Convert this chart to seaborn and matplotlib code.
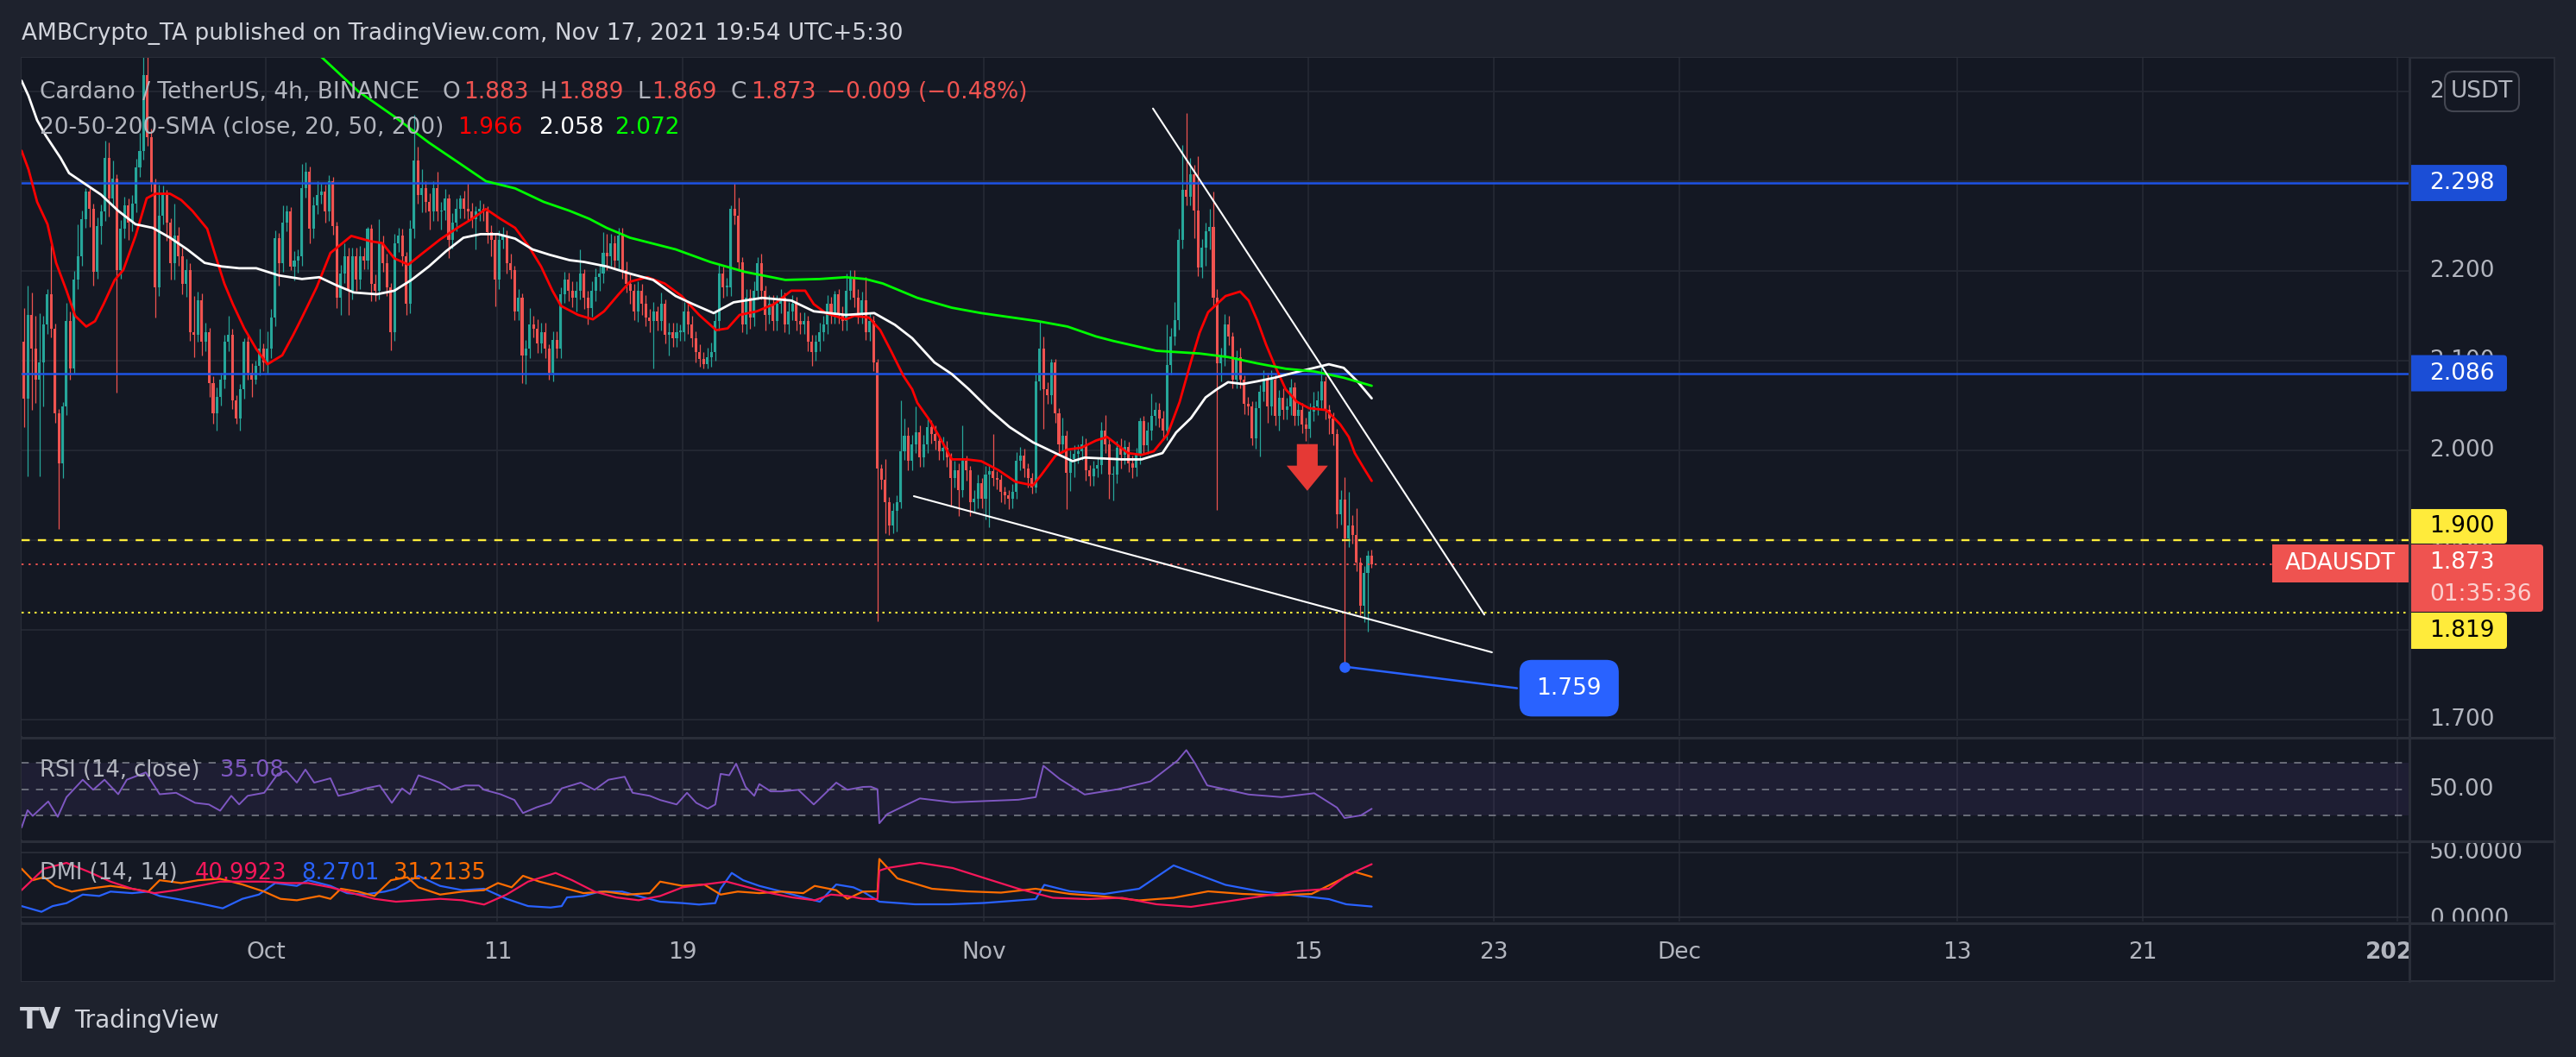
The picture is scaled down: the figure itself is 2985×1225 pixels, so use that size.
import numpy as np
import pandas as pd
import matplotlib
matplotlib.use("Agg")
import matplotlib.pyplot as plt
import seaborn as sns
from matplotlib.patches import Rectangle, FancyBboxPatch, Polygon
from matplotlib.lines import Line2D

sns.set_theme(style="dark")
plt.rcParams['font.family'] = ['DejaVu Sans']

# ---------------------------------------------------------------- data
origin = "2021-10-01"
first_candle = "2021-09-20 13:30"
first_open = 2.121
closes = [
    2.058, 2.151, 2.113, 2.079, 2.098, 2.140, 2.174, 2.136, 2.041, 1.986,
    2.049, 2.144, 2.091, 2.190, 2.216, 2.258, 2.288, 2.269, 2.199, 2.250,
    2.266, 2.326, 2.281, 2.303, 2.201, 2.247, 2.273, 2.254, 2.275, 2.315,
    2.334, 2.418, 2.349, 2.298, 2.182, 2.262, 2.285, 2.254, 2.209, 2.239,
    2.216, 2.186, 2.201, 2.132, 2.129, 2.167, 2.121, 2.132, 2.075, 2.041,
    2.060, 2.079, 2.121, 2.129, 2.056, 2.036, 2.068, 2.121, 2.087, 2.079,
    2.094, 2.113, 2.098, 2.113, 2.148, 2.237, 2.209, 2.254, 2.266, 2.205,
    2.212, 2.216, 2.292, 2.311, 2.247, 2.273, 2.285, 2.288, 2.266, 2.300,
    2.250, 2.170, 2.197, 2.216, 2.178, 2.216, 2.190, 2.216, 2.212, 2.247,
    2.186, 2.178, 2.231, 2.209, 2.182, 2.132, 2.231, 2.239, 2.216, 2.163,
    2.247, 2.323, 2.285, 2.292, 2.277, 2.266, 2.292, 2.266, 2.267, 2.281,
    2.235, 2.254, 2.269, 2.281, 2.269, 2.266, 2.258, 2.266, 2.269, 2.266,
    2.243, 2.235, 2.190, 2.235, 2.239, 2.209, 2.201, 2.155, 2.170, 2.106,
    2.113, 2.140, 2.136, 2.119, 2.132, 2.113, 2.087, 2.123, 2.113, 2.174,
    2.190, 2.178, 2.170, 2.178, 2.197, 2.170, 2.159, 2.178, 2.193, 2.197,
    2.220, 2.216, 2.231, 2.212, 2.239, 2.201, 2.186, 2.178, 2.155, 2.178,
    2.163, 2.148, 2.144, 2.155, 2.144, 2.163, 2.129, 2.132, 2.125, 2.132,
    2.132, 2.155, 2.140, 2.125, 2.110, 2.102, 2.096, 2.104, 2.110, 2.144,
    2.197, 2.182, 2.182, 2.269, 2.262, 2.210, 2.140, 2.170, 2.148, 2.178,
    2.209, 2.178, 2.151, 2.163, 2.144, 2.163, 2.170, 2.140, 2.155, 2.163,
    2.144, 2.140, 2.144, 2.121, 2.110, 2.121, 2.132, 2.140, 2.163, 2.151,
    2.174, 2.151, 2.144, 2.178, 2.193, 2.170, 2.151, 2.167, 2.132, 2.144,
    2.098, 1.980, 1.967, 1.942, 1.916, 1.933, 1.942, 1.999, 2.016, 1.988,
    2.007, 2.020, 1.992, 2.007, 2.026, 2.018, 2.011, 1.999, 2.003, 1.992,
    1.969, 1.978, 1.956, 1.988, 1.978, 1.942, 1.946, 1.963, 1.946, 1.973,
    1.977, 1.969, 1.967, 1.954, 1.950, 1.946, 1.954, 1.988, 1.994, 1.980,
    1.969, 1.959, 2.077, 2.113, 2.068, 2.062, 2.098, 2.041, 2.007, 2.016,
    1.975, 1.990, 1.996, 1.999, 2.007, 1.978, 1.971, 1.980, 1.984, 2.022,
    2.007, 1.973, 1.973, 2.003, 1.995, 2.004, 1.986, 1.981, 1.995, 2.033,
    2.006, 2.022, 2.038, 2.045, 2.036, 2.022, 2.095, 2.127, 2.145, 2.235,
    2.290, 2.283, 2.308, 2.267, 2.204, 2.226, 2.244, 2.249, 2.170, 2.097,
    2.104, 2.140, 2.127, 2.079, 2.104, 2.079, 2.052, 2.049, 2.013, 2.047,
    2.065, 2.079, 2.049, 2.079, 2.038, 2.059, 2.045, 2.049, 2.070, 2.038,
    2.045, 2.029, 2.024, 2.043, 2.049, 2.056, 2.077, 2.045, 2.036, 2.018,
    1.929, 1.945, 1.902, 1.916, 1.906, 1.875, 1.827, 1.863, 1.883, 1.873,
]
wick_up = [
    0.038, 0.033, 0.025, 0.037, 0.055, 0.010, 0.006, 0.055, 0.005, 0.005,
    0.005, 0.020, 0.011, 0.010, 0.036, 0.009, 0.004, 0.005, 0.006, 0.010,
    0.008, 0.019, 0.017, 0.020, 0.005, 0.010, 0.010, 0.008, 0.010, 0.010,
    0.020, 0.030, 0.030, 0.010, 0.005, 0.034, 0.010, 0.005, 0.005, 0.036,
    0.010, 0.010, 0.012, 0.008, 0.040, 0.010, 0.008, 0.010, 0.005, 0.008,
    0.010, 0.008, 0.008, 0.021, 0.007, 0.006, 0.006, 0.004, 0.008, 0.010,
    0.006, 0.023, 0.006, 0.020, 0.010, 0.008, 0.005, 0.019, 0.007, 0.005,
    0.010, 0.008, 0.027, 0.010, 0.005, 0.010, 0.015, 0.010, 0.008, 0.007,
    0.005, 0.005, 0.010, 0.015, 0.010, 0.010, 0.010, 0.012, 0.010, 0.002,
    0.005, 0.010, 0.027, 0.008, 0.010, 0.005, 0.010, 0.009, 0.008, 0.005,
    0.010, 0.051, 0.015, 0.021, 0.008, 0.010, 0.008, 0.019, 0.010, 0.010,
    0.005, 0.010, 0.012, 0.004, 0.008, 0.029, 0.010, 0.006, 0.010, 0.006,
    0.006, 0.008, 0.006, 0.010, 0.010, 0.006, 0.010, 0.005, 0.010, 0.005,
    0.010, 0.019, 0.010, 0.010, 0.010, 0.010, 0.005, 0.010, 0.010, 0.008,
    0.009, 0.008, 0.010, 0.010, 0.027, 0.005, 0.008, 0.010, 0.010, 0.010,
    0.023, 0.021, 0.010, 0.008, 0.009, 0.009, 0.010, 0.010, 0.008, 0.010,
    0.008, 0.010, 0.010, 0.010, 0.006, 0.013, 0.005, 0.010, 0.010, 0.010,
    0.008, 0.010, 0.008, 0.010, 0.008, 0.008, 0.008, 0.010, 0.010, 0.010,
    0.010, 0.008, 0.010, 0.004, 0.029, 0.020, 0.005, 0.010, 0.010, 0.010,
    0.006, 0.010, 0.006, 0.010, 0.010, 0.010, 0.010, 0.006, 0.010, 0.010,
    0.008, 0.010, 0.010, 0.006, 0.008, 0.008, 0.010, 0.010, 0.010, 0.008,
    0.004, 0.006, 0.010, 0.019, 0.008, 0.008, 0.010, 0.010, 0.026, 0.010,
    0.006, 0.004, 0.005, 0.023, 0.006, 0.008, 0.008, 0.057, 0.020, 0.010,
    0.010, 0.029, 0.008, 0.010, 0.010, 0.008, 0.010, 0.006, 0.012, 0.008,
    0.005, 0.010, 0.008, 0.040, 0.006, 0.005, 0.010, 0.010, 0.006, 0.010,
    0.008, 0.041, 0.008, 0.006, 0.006, 0.006, 0.008, 0.010, 0.010, 0.008,
    0.006, 0.006, 0.010, 0.031, 0.014, 0.008, 0.004, 0.004, 0.006, 0.021,
    0.006, 0.010, 0.010, 0.008, 0.009, 0.006, 0.006, 0.008, 0.008, 0.010,
    0.017, 0.006, 0.010, 0.008, 0.010, 0.008, 0.006, 0.008, 0.008, 0.004,
    0.005, 0.010, 0.025, 0.009, 0.008, 0.008, 0.045, 0.010, 0.020, 0.012,
    0.050, 0.086, 0.018, 0.010, 0.061, 0.010, 0.010, 0.020, 0.039, 0.010,
    0.010, 0.012, 0.010, 0.005, 0.008, 0.010, 0.005, 0.008, 0.006, 0.008,
    0.008, 0.010, 0.008, 0.010, 0.006, 0.008, 0.010, 0.010, 0.010, 0.006,
    0.010, 0.008, 0.008, 0.010, 0.016, 0.010, 0.018, 0.006, 0.006, 0.006,
    0.006, 0.011, 0.025, 0.038, 0.012, 0.030, 0.006, 0.008, 0.005, 0.006,
]
wick_down = [
    0.032, 0.087, 0.068, 0.026, 0.108, 0.049, 0.010, 0.010, 0.010, 0.074,
    0.017, 0.010, 0.012, 0.005, 0.010, 0.010, 0.010, 0.020, 0.015, 0.008,
    0.020, 0.010, 0.020, 0.010, 0.137, 0.010, 0.010, 0.019, 0.010, 0.010,
    0.010, 0.010, 0.010, 0.010, 0.034, 0.010, 0.010, 0.020, 0.019, 0.019,
    0.010, 0.012, 0.015, 0.010, 0.025, 0.008, 0.015, 0.010, 0.015, 0.011,
    0.019, 0.010, 0.010, 0.010, 0.010, 0.006, 0.014, 0.010, 0.008, 0.019,
    0.005, 0.010, 0.010, 0.012, 0.010, 0.010, 0.025, 0.010, 0.010, 0.004,
    0.016, 0.014, 0.010, 0.010, 0.016, 0.010, 0.010, 0.010, 0.012, 0.010,
    0.010, 0.011, 0.019, 0.010, 0.027, 0.010, 0.012, 0.010, 0.010, 0.010,
    0.020, 0.012, 0.010, 0.010, 0.010, 0.020, 0.010, 0.010, 0.010, 0.012,
    0.010, 0.010, 0.010, 0.020, 0.012, 0.020, 0.010, 0.010, 0.020, 0.010,
    0.021, 0.010, 0.010, 0.010, 0.010, 0.010, 0.010, 0.034, 0.010, 0.010,
    0.012, 0.019, 0.029, 0.010, 0.010, 0.012, 0.010, 0.010, 0.010, 0.031,
    0.032, 0.010, 0.010, 0.010, 0.010, 0.010, 0.008, 0.010, 0.010, 0.010,
    0.010, 0.012, 0.010, 0.015, 0.010, 0.012, 0.019, 0.010, 0.012, 0.015,
    0.010, 0.015, 0.010, 0.010, 0.010, 0.010, 0.010, 0.015, 0.010, 0.012,
    0.012, 0.010, 0.012, 0.053, 0.010, 0.010, 0.010, 0.023, 0.010, 0.010,
    0.010, 0.010, 0.010, 0.010, 0.012, 0.009, 0.005, 0.005, 0.011, 0.010,
    0.010, 0.012, 0.010, 0.010, 0.010, 0.010, 0.008, 0.010, 0.012, 0.010,
    0.010, 0.010, 0.017, 0.010, 0.010, 0.010, 0.010, 0.008, 0.010, 0.010,
    0.010, 0.010, 0.010, 0.010, 0.016, 0.010, 0.010, 0.010, 0.010, 0.010,
    0.010, 0.010, 0.010, 0.010, 0.010, 0.010, 0.010, 0.010, 0.009, 0.010,
    0.010, 0.170, 0.010, 0.034, 0.010, 0.008, 0.023, 0.006, 0.010, 0.010,
    0.010, 0.010, 0.010, 0.010, 0.010, 0.010, 0.010, 0.010, 0.010, 0.010,
    0.032, 0.010, 0.029, 0.008, 0.012, 0.015, 0.010, 0.010, 0.010, 0.023,
    0.059, 0.008, 0.010, 0.012, 0.010, 0.011, 0.010, 0.008, 0.010, 0.010,
    0.010, 0.007, 0.006, 0.010, 0.044, 0.010, 0.010, 0.010, 0.010, 0.010,
    0.040, 0.020, 0.020, 0.010, 0.010, 0.012, 0.010, 0.010, 0.010, 0.010,
    0.010, 0.027, 0.029, 0.010, 0.015, 0.010, 0.010, 0.012, 0.010, 0.010,
    0.010, 0.010, 0.010, 0.010, 0.010, 0.010, 0.010, 0.010, 0.010, 0.010,
    0.010, 0.010, 0.010, 0.030, 0.010, 0.012, 0.020, 0.020, 0.010, 0.163,
    0.020, 0.010, 0.010, 0.010, 0.010, 0.010, 0.012, 0.010, 0.007, 0.011,
    0.054, 0.010, 0.018, 0.010, 0.010, 0.016, 0.010, 0.010, 0.010, 0.010,
    0.010, 0.010, 0.013, 0.010, 0.010, 0.010, 0.010, 0.010, 0.018, 0.012,
    0.016, 0.012, 0.143, 0.010, 0.010, 0.010, 0.011, 0.018, 0.065, 0.004,
]

# moving averages (days since Oct 1, value)
sma20_days = [-10.54, -10.24, -9.87, -9.42, -9.05, -8.60, -8.23, -7.75, -7.37, -7.00, -6.52, -6.15, -5.62,
              -5.14, -4.77, -4.13, -3.65, -3.17, -2.53, -2.16, -1.79, -1.42, -0.93, -0.41, 0.07, 0.71, 1.19,
              1.56, 2.20, 2.79, 3.69, 4.54, 5.03, 5.55, 6.15, 6.78, 7.52, 8.27, 8.90, 9.50, 10.13, 10.76,
              11.36, 11.88, 12.37, 12.74, 13.48, 14.12, 14.60, 15.23, 15.72, 16.46, 17.21, 17.95, 18.70,
              19.44, 19.93, 20.45, 21.19, 21.94, 22.68, 23.28, 23.65, 24.17, 25.03, 25.40, 26.03, 26.52,
              27.00, 27.52, 27.90, 28.12, 28.64, 29.01, 29.61, 30.24, 30.88, 31.62, 32.36, 33.11, 33.48,
              34.08, 34.60, 35.20, 35.83, 36.31, 37.21, 37.80, 38.32, 38.92, 39.44, 39.93, 40.30, 40.67,
              41.42, 42.05, 42.42, 42.79, 43.17, 43.54, 44.02, 44.51, 45.03, 45.77, 46.37, 46.74, 47.00,
              47.37, 47.73]
sma20_vals = [2.334, 2.313, 2.277, 2.252, 2.209, 2.178, 2.150, 2.138, 2.144, 2.163, 2.190, 2.201, 2.239,
              2.281, 2.286, 2.286, 2.279, 2.267, 2.247, 2.216, 2.186, 2.163, 2.136, 2.113, 2.096, 2.106, 2.129,
              2.148, 2.182, 2.220, 2.239, 2.233, 2.231, 2.214, 2.207, 2.220, 2.235, 2.248, 2.258, 2.269, 2.258,
              2.248, 2.227, 2.205, 2.178, 2.161, 2.151, 2.146, 2.155, 2.174, 2.188, 2.193, 2.186, 2.172, 2.151,
              2.134, 2.136, 2.151, 2.155, 2.163, 2.178, 2.178, 2.163, 2.153, 2.146, 2.150, 2.148, 2.134,
              2.110, 2.083, 2.068, 2.053, 2.034, 2.018, 1.990, 1.990, 1.988, 1.978, 1.965, 1.961, 1.973,
              1.994, 2.001, 2.003, 2.011, 2.015, 1.997, 1.995, 1.999, 2.018, 2.054, 2.099, 2.131, 2.154,
              2.172, 2.177, 2.167, 2.145, 2.118, 2.095, 2.068, 2.054, 2.047, 2.045, 2.029, 2.015, 1.997,
              1.981, 1.966]
sma50_days = [-10.54, -10.24, -9.87, -9.50, -8.86, -8.49, -7.86, -7.11, -6.37, -5.62, -4.88, -4.13, -3.39,
              -2.64, -1.90, -1.15, -0.41, 0.56, 1.56, 2.31, 3.05, 3.80, 4.80, 5.55, 6.29, 7.04, 7.78, 8.53,
              9.27, 10.02, 10.76, 11.51, 12.25, 13.11, 13.74, 14.71, 15.72, 16.72, 17.69, 18.44, 19.33,
              20.19, 21.42, 22.68, 23.65, 25.03, 26.26, 27.15, 27.90, 28.86, 29.61, 30.35, 31.25, 32.10,
              33.11, 34.08, 34.82, 35.34, 36.95, 37.80, 38.70, 39.29, 39.93, 40.56, 41.04, 41.53, 42.16,
              42.79, 43.54, 44.28, 45.25, 45.88, 46.52, 47.11, 47.73]
sma50_vals = [2.412, 2.395, 2.368, 2.351, 2.326, 2.309, 2.298, 2.285, 2.267, 2.252, 2.248, 2.237, 2.224,
              2.209, 2.205, 2.203, 2.203, 2.195, 2.191, 2.193, 2.184, 2.176, 2.174, 2.178, 2.190, 2.205,
              2.222, 2.237, 2.241, 2.241, 2.236, 2.224, 2.218, 2.212, 2.210, 2.205, 2.197, 2.190, 2.172,
              2.163, 2.153, 2.165, 2.170, 2.167, 2.155, 2.151, 2.153, 2.140, 2.125, 2.098, 2.085, 2.068,
              2.045, 2.026, 2.009, 1.997, 1.988, 1.992, 1.990, 1.990, 1.997, 2.020, 2.036, 2.059, 2.068,
              2.076, 2.074, 2.077, 2.081, 2.086, 2.092, 2.096, 2.092, 2.077, 2.058]
sma200_days = [0.00, 2.42, 4.00, 5.55, 7.04, 8.53, 9.50, 10.76, 11.99, 13.11, 13.97, 14.71, 15.72, 17.69,
               19.18, 20.67, 22.42, 23.91, 25.03, 25.88, 26.63, 28.12, 29.61, 30.88, 33.33, 34.60, 35.83,
               36.57, 38.44, 40.30, 41.53, 42.79, 44.02, 45.25, 46.52, 47.73]
sma200_vals = [2.490, 2.438, 2.400, 2.372, 2.343, 2.317, 2.300, 2.292, 2.277, 2.267, 2.258, 2.248, 2.237,
               2.224, 2.210, 2.199, 2.190, 2.191, 2.193, 2.191, 2.186, 2.170, 2.159, 2.153, 2.144, 2.138,
               2.127, 2.122, 2.111, 2.108, 2.104, 2.097, 2.091, 2.088, 2.081, 2.072]

rsi_days = [-10.54, -10.28, -10.06, -9.39, -8.98, -8.60, -7.90, -7.45, -6.96, -6.37, -6.00, -5.18, -4.58,
            -3.87, -3.05, -2.46, -1.97, -1.49, -1.15, -0.78, -0.07, 0.52, 0.89, 1.34, 1.71, 2.09, 2.79,
            3.13, 3.72, 4.32, 4.92, 5.44, 5.88, 6.22, 6.59, 7.52, 8.01, 8.60, 9.20, 9.42, 10.13, 10.73,
            11.10, 11.69, 12.29, 12.77, 13.59, 14.19, 14.79, 15.49, 15.83, 16.57, 17.02, 17.73, 18.18,
            18.58, 19.07, 19.40, 19.63, 20.00, 20.30, 20.71, 21.08, 21.30, 21.79, 22.27, 22.98, 23.65,
            24.17, 24.62, 25.10, 25.77, 26.11, 26.40, 26.48, 26.82, 27.52, 28.23, 29.65, 31.06, 32.48,
            33.23, 33.56, 34.26, 35.34, 36.76, 38.18, 39.35, 39.73, 40.10, 40.63, 42.42, 43.84, 45.25,
            46.23, 46.56, 47.26, 47.73]
rsi_vals = [20.7, 34.0, 29.6, 40.7, 28.9, 44.0, 57.3, 49.6, 57.3, 46.2, 57.3, 62.9, 46.2, 47.3, 39.6,
            38.4, 33.6, 45.0, 38.4, 45.0, 47.3, 61.8, 64.0, 55.1, 65.1, 55.1, 58.4, 45.0, 47.3, 50.7,
            52.9, 39.6, 50.7, 46.2, 60.7, 55.1, 49.6, 52.9, 52.9, 49.6, 46.2, 41.8, 31.8, 36.2, 39.6,
            50.7, 55.1, 49.6, 57.3, 59.6, 47.3, 45.0, 41.8, 38.4, 47.3, 39.6, 35.1, 38.4, 61.8, 60.7,
            69.6, 51.8, 45.0, 54.0, 48.4, 48.4, 49.6, 38.4, 47.3, 55.1, 49.6, 51.8, 52.0, 50.0, 24.0,
            31.0, 37.0, 43.0, 40.0, 41.0, 42.0, 44.0, 68.0, 58.0, 46.0, 50.0, 56.0, 72.0, 80.0, 70.0,
            53.0, 46.0, 44.0, 47.0, 36.0, 28.0, 30.0, 35.08]

dmi_red_days = [-10.54, -9.57, -8.60, -7.67, -6.70, -5.77, -4.80, -3.87, -2.91, -1.97, -1.01, -0.07, 0.89,
                1.82, 2.79, 3.72, 4.69, 5.62, 6.59, 7.52, 8.49, 9.42, 10.39, 11.32, 12.51, 13.22, 14.19,
                15.12, 16.09, 17.02, 17.99, 18.92, 19.89, 20.82, 21.79, 22.72, 23.69, 24.39, 25.10, 25.77,
                26.40, 26.48, 26.82, 28.23, 29.65, 31.06, 32.48, 33.97, 35.46, 36.95, 38.44, 39.93, 41.42,
                42.91, 44.40, 45.88, 46.63, 47.73]
dmi_red_vals = [20.9, 37.5, 42.0, 35.3, 27.5, 22.0, 18.6, 20.9, 24.2, 27.5, 27.5, 27.5, 26.4, 26.4, 23.1,
                18.6, 14.2, 12.0, 13.1, 14.2, 13.1, 9.8, 17.5, 27.5, 34.2, 28.6, 19.8, 15.3, 13.1, 16.4,
                23.1, 25.3, 27.5, 23.1, 18.6, 15.3, 13.1, 17.5, 16.4, 14.2, 14.0, 36.0, 38.0, 42.0, 38.0,
                30.0, 22.0, 15.0, 14.0, 15.0, 10.0, 8.0, 12.0, 16.0, 20.0, 22.0, 32.0, 40.9923]
dmi_blue_days = [-10.54, -9.68, -9.20, -8.60, -7.90, -7.19, -6.70, -5.77, -5.07, -4.58, -3.87, -2.91, -1.86,
                 -1.01, -0.30, 0.41, 1.34, 1.82, 2.79, 3.50, 4.21, 5.14, 5.62, 6.59, 7.52, 8.49, 9.42,
                 10.39, 11.32, 12.29, 12.77, 13.00, 13.71, 14.41, 15.38, 16.31, 17.02, 17.99, 18.70, 19.40,
                 19.63, 20.11, 20.60, 21.30, 22.27, 23.20, 23.91, 24.62, 25.36, 25.77, 26.48, 28.01, 29.50,
                 30.99, 32.48, 33.23, 33.60, 34.71, 36.20, 37.69, 39.18, 39.93, 41.42, 42.91, 44.40, 45.88,
                 46.63, 47.73]
dmi_blue_vals = [8.6, 4.2, 8.6, 10.9, 17.5, 16.4, 19.8, 18.6, 19.8, 16.4, 14.2, 10.9, 6.9, 14.2, 17.5,
                 26.4, 24.2, 28.6, 24.2, 18.6, 17.5, 19.8, 22.0, 32.0, 24.2, 20.9, 22.0, 14.2, 8.6, 7.5,
                 8.6, 15.3, 16.4, 19.8, 19.8, 15.3, 12.0, 10.9, 9.8, 10.9, 22.0, 34.2, 28.6, 24.2, 19.8,
                 15.3, 12.0, 25.3, 23.1, 19.8, 12.0, 10.0, 10.0, 11.0, 13.0, 14.0, 25.0, 20.0, 18.0, 22.0,
                 40.0, 35.0, 25.0, 20.0, 17.0, 14.0, 10.0, 8.2701]
dmi_orange_days = [-10.54, -10.06, -9.57, -9.09, -8.38, -7.67, -6.70, -5.77, -5.07, -4.58, -3.65, -2.91,
                   -1.97, -1.01, -0.07, 0.63, 1.34, 2.31, 2.79, 3.24, 3.99, 4.69, 5.40, 6.11, 6.59, 7.52,
                   8.49, 9.42, 10.02, 10.61, 11.10, 11.81, 12.77, 13.71, 14.67, 15.61, 16.57, 17.02, 17.99,
                   18.92, 19.63, 20.37, 21.30, 22.27, 23.20, 23.69, 24.62, 25.10, 25.77, 26.40, 26.48,
                   27.26, 28.75, 30.24, 31.73, 33.22, 34.71, 36.20, 37.69, 39.18, 40.67, 42.16, 43.65,
                   45.14, 46.26, 47.00, 47.73]
dmi_orange_vals = [37.5, 28.6, 30.9, 24.2, 19.8, 22.0, 24.2, 22.0, 19.8, 28.6, 26.4, 28.6, 29.7, 25.3,
                   19.8, 14.2, 13.1, 16.4, 14.2, 22.0, 19.8, 16.4, 28.6, 30.9, 23.1, 17.5, 19.8, 20.9,
                   26.4, 23.1, 32.0, 27.5, 23.1, 18.6, 19.8, 17.5, 18.6, 27.5, 24.2, 25.3, 17.5, 19.8,
                   18.6, 19.8, 18.6, 24.2, 20.9, 14.2, 19.8, 20.0, 45.0, 30.0, 22.0, 20.0, 19.0, 22.0,
                   18.0, 16.0, 13.0, 15.0, 20.0, 18.0, 17.0, 18.0, 28.0, 35.0, 31.2135]

tick_dates = ["2021-10-01", "2021-10-11", "2021-10-19", "2021-11-01", "2021-11-15", "2021-11-23",
              "2021-12-01", "2021-12-13", "2021-12-21", "2022-01-01"]
tick_labels = ["Oct", "11", "19", "Nov", "15", "23", "Dec", "13", "21", "2022"]
price_ticks = [2.4, 2.3, 2.2, 2.1, 2.0, 1.9, 1.8, 1.7]
resistance_levels = [2.298, 2.086]
support_dashed = 1.900
last_price = 1.873
support_dotted = 1.819
swing_low = 1.759
swing_low_time = "2021-11-16 13:30"
trend_upper_days = [38.29, 52.59]
trend_upper_prices = [2.381, 1.817]
trend_lower_days = [27.97, 52.92]
trend_lower_prices = [1.949, 1.775]

# ---------------------------------------------------------------- style
W, H, DPI = 2985, 1225, 100
OUTER = "#1e222d"
PANE = "#141823"
GRID = "#242833"
BORDER = "#2a2e39"
TXT = "#b2b5be"
UP, DOWN = "#26a69a", "#ef5350"
XLIM = (-10.54, 92.48)
PLIM = (1.6817, 2.4375)
LEG_FS = 19

fig = plt.figure(figsize=(W / DPI, H / DPI), dpi=DPI, facecolor=OUTER)


def px_axes(x0, y0, x1, y1, bg=PANE):
    a = fig.add_axes([x0 / W, 1 - y1 / H, (x1 - x0) / W, (y1 - y0) / H])
    a.set_facecolor(bg)
    for s in a.spines.values():
        s.set_visible(False)
    a.set_xticks([])
    a.set_yticks([])
    a.grid(False)
    a.set_xlabel("")
    a.set_ylabel("")
    return a


def ftext(x, y, s, **kw):
    fig.text(x / W, 1 - y / H, s, va="center", ha="left", **kw)


fig.patches.append(Rectangle((25 / W, 1 - 1137 / H), (2960 - 25) / W, (1137 - 67) / H,
                             transform=fig.transFigure, facecolor=PANE, edgecolor=BORDER, lw=1.5,
                             zorder=-10))

origin_ts = pd.Timestamp(origin)
tick_days = [(pd.Timestamp(d) - origin_ts) / pd.Timedelta(days=1) for d in tick_dates]

# ---------------------------------------------------------------- price pane
pax = px_axes(25, 67, 2791, 853)
pax.set_xlim(*XLIM)
pax.set_ylim(*PLIM)
for d in tick_days:
    pax.axvline(d, color=GRID, lw=1.3, zorder=0.5)
for p in price_ticks:
    pax.axhline(p, color=GRID, lw=1.3, zorder=0.5)

opens = [first_open] + closes[:-1]
df = pd.DataFrame({"time": pd.date_range(first_candle, periods=len(closes), freq="4h"),
                   "open": opens, "close": closes})
df["high"] = np.maximum(df["open"], df["close"]) + np.array(wick_up)
df["low"] = np.minimum(df["open"], df["close"]) - np.array(wick_down)
df["day"] = (df["time"] - origin_ts) / pd.Timedelta(days=1)
cols = np.where(df["close"] >= df["open"], UP, DOWN)
pax.vlines(df["day"], df["low"], df["high"], colors=cols, lw=0.9, zorder=3)
pax.bar(df["day"], (df["close"] - df["open"]).abs().clip(lower=0.0015),
        bottom=np.minimum(df["open"], df["close"]), width=0.68 / 6, color=cols, lw=0, zorder=4)

for lvl in resistance_levels:
    pax.axhline(lvl, color="#1e53e5", lw=1.8, zorder=5)
pax.axhline(support_dashed, color="#ffeb3b", lw=1.7, ls=(0, (4, 4)), zorder=5)
pax.axhline(last_price, color="#ef5350", lw=1.4, ls=(0, (1.2, 3)), zorder=5)
pax.axhline(support_dotted, color="#ffeb3b", lw=1.5, ls=(0, (1.2, 2.4)), zorder=5)

sns.lineplot(x=sma20_days, y=sma20_vals, ax=pax, color="#ff0000", lw=2.0, zorder=6,
             sort=False, estimator=None, legend=False)
sns.lineplot(x=sma50_days, y=sma50_vals, ax=pax, color="#ffffff", lw=2.0, zorder=6,
             sort=False, estimator=None, legend=False)
sns.lineplot(x=sma200_days, y=sma200_vals, ax=pax, color="#00ff00", lw=2.0, zorder=6,
             sort=False, estimator=None, legend=False)

pax.plot(trend_upper_days, trend_upper_prices, color="white", lw=1.5, zorder=7)
pax.plot(trend_lower_days, trend_lower_prices, color="white", lw=1.5, zorder=7)

# red down arrow
arrow_day, arrow_top, arrow_neck, arrow_tip = 44.95, 2.007, 1.983, 1.955
bw, hw = 0.45, 0.89
pax.add_patch(Polygon([(arrow_day - bw, arrow_top), (arrow_day + bw, arrow_top), (arrow_day + bw, arrow_neck),
                       (arrow_day + hw, arrow_neck), (arrow_day, arrow_tip), (arrow_day - hw, arrow_neck),
                       (arrow_day - bw, arrow_neck)], closed=True, facecolor="#e53935", edgecolor="none",
                      zorder=8))

# swing low annotation
low_day = (pd.Timestamp(swing_low_time) - origin_ts) / pd.Timedelta(days=1)
pax.plot([low_day, 54.0], [swing_low, 1.735], color="#2962ff", lw=1.8, zorder=8)
pax.plot([low_day], [swing_low], "o", color="#2962ff", ms=8, zorder=9)
pax.text(56.25, 1.735, f"{swing_low:.3f}", color="white", fontsize=19, ha="center", va="center", zorder=10,
         bbox=dict(boxstyle="round,pad=0.75,rounding_size=0.55", fc="#2962ff", ec="none"))

# ADAUSDT tag
pax.add_patch(Rectangle((86.6, 1.874 - 0.0212), 5.9, 0.0424, facecolor="#ef5350", edgecolor="none",
                        zorder=9, clip_on=False))
pax.text(89.55, 1.874, "ADAUSDT", color="white", fontsize=19, ha="center", va="center", zorder=10)
pax.set_xlabel("")
pax.set_ylabel("")

# price scale
sax = px_axes(2793, 67, 2960, 853, bg="none")
sax.set_xlim(0, 167)
sax.set_ylim(*PLIM)
for p in price_ticks:
    sax.text(22, p, f"{p:.3f}", color=TXT, fontsize=19, va="center", ha="left", clip_on=True, zorder=2)


def scale_box(center, h_px, w_px, color):
    h = h_px * (PLIM[1] - PLIM[0]) / 786
    sax.add_patch(FancyBboxPatch((-2, center - h / 2), w_px, h, boxstyle="round,pad=0,rounding_size=4",
                                 mutation_aspect=(PLIM[1] - PLIM[0]) / 786, facecolor=color,
                                 edgecolor="none", zorder=5, clip_on=False))


for lvl in resistance_levels:
    scale_box(lvl, 42, 114, "#1b4ed6")
    sax.text(22, lvl, f"{lvl:.3f}", color="white", fontsize=19, va="center", ha="left", zorder=6)
scale_box(1.9154, 40, 114, "#ffeb3b")
sax.text(22, 1.9154, f"{support_dashed:.3f}", color="black", fontsize=19, va="center", ha="left", zorder=6)
scale_box(1.8577, 78, 156, "#ef5350")
sax.text(22, 1.875, f"{last_price:.3f}", color="white", fontsize=19, va="center", ha="left", zorder=6)
sax.text(22, 1.8394, "01:35:36", color="#fbd0cf", fontsize=19, va="center", ha="left", zorder=6)
scale_box(1.799, 42, 114, "#ffeb3b")
sax.text(22, 1.799, f"{support_dotted:.3f}", color="black", fontsize=19, va="center", ha="left", zorder=6)
uh = 46 * (PLIM[1] - PLIM[0]) / 786
sax.add_patch(FancyBboxPatch((40, 2.4 - uh / 2), 86, uh, boxstyle="round,pad=0,rounding_size=10",
                             mutation_aspect=(PLIM[1] - PLIM[0]) / 786, facecolor=PANE,
                             edgecolor="#434651", lw=1.5, zorder=5))
sax.text(83, 2.4, "USDT", color=TXT, fontsize=19, va="center", ha="center", zorder=6)

# ---------------------------------------------------------------- RSI pane
RLIM = (11.5, 88.8)
rax = px_axes(25, 856, 2791, 973)
rax.set_xlim(*XLIM)
rax.set_ylim(*RLIM)
for d in tick_days:
    rax.axvline(d, color=GRID, lw=1.3, zorder=0.5)
rax.axhspan(30, 70, color="#7e57c2", alpha=0.1, lw=0, zorder=1)
for lv in (70, 50, 30):
    rax.axhline(lv, color="#787b86", lw=1.2, ls=(0, (5, 5)), zorder=2)
sns.lineplot(x=rsi_days, y=rsi_vals, ax=rax, color="#7e57c2", lw=1.4, zorder=4,
             sort=False, estimator=None, legend=False)
rax.set_xlabel("")
rax.set_ylabel("")
rsx = px_axes(2793, 856, 2960, 973, bg="none")
rsx.set_xlim(0, 167)
rsx.set_ylim(*RLIM)
rsx.text(22, 50, "50.00", color=TXT, fontsize=19, va="center", ha="left", clip_on=True)

# ---------------------------------------------------------------- DMI pane
DLIM = (-3.33, 58.0)
dax = px_axes(25, 976, 2791, 1068)
dax.set_xlim(*XLIM)
dax.set_ylim(*DLIM)
for d in tick_days:
    dax.axvline(d, color=GRID, lw=1.3, zorder=0.5)
for lv in (50, 0):
    dax.axhline(lv, color=BORDER, lw=1.3, zorder=0.6)
sns.lineplot(x=dmi_blue_days, y=dmi_blue_vals, ax=dax, color="#2962ff", lw=1.6, zorder=4,
             sort=False, estimator=None, legend=False)
sns.lineplot(x=dmi_orange_days, y=dmi_orange_vals, ax=dax, color="#ff6d00", lw=1.6, zorder=4,
             sort=False, estimator=None, legend=False)
sns.lineplot(x=dmi_red_days, y=dmi_red_vals, ax=dax, color="#f7175a", lw=1.6, zorder=4,
             sort=False, estimator=None, legend=False)
dax.set_xlabel("")
dax.set_ylabel("")
dsx = px_axes(2793, 976, 2960, 1068, bg="none")
dsx.set_xlim(0, 167)
dsx.set_ylim(*DLIM)
dsx.text(22, 50, "50.0000", color=TXT, fontsize=19, va="center", ha="left", clip_on=True)
dsx.text(22, -1.5, "0.0000", color=TXT, fontsize=19, va="center", ha="left", clip_on=True)

# ---------------------------------------------------------------- time axis
tax = px_axes(25, 1071, 2791, 1137)
tax.set_xlim(*XLIM)
tax.set_ylim(0, 1)
for d, lab in zip(tick_days, tick_labels):
    tax.text(d, 0.5, lab, color=TXT, fontsize=19, ha="center", va="center", clip_on=True,
             fontweight="bold" if lab.isdigit() and len(lab) == 4 else "normal")

# pane separators
for yy in (854.5, 974.5, 1069.5):
    fig.add_artist(Line2D([25 / W, 2960 / W], [1 - yy / H, 1 - yy / H], color=BORDER, lw=2.2))
fig.add_artist(Line2D([2792 / W, 2792 / W], [1 - 67 / H, 1 - 1137 / H], color=BORDER, lw=2.2))

# ---------------------------------------------------------------- texts
ftext(25, 39, "AMBCrypto_TA published on TradingView.com, Nov 17, 2021 19:54 UTC+5:30", color="#d1d4dc",
      fontsize=LEG_FS)
row1 = [("Cardano / TetherUS, 4h, BINANCE", 46, TXT), ("O", 512, TXT), ("1.883", 537, "#ef5350"),
        ("H", 625, TXT), ("1.889", 647, "#ef5350"), ("L", 738, TXT), ("1.869", 755, "#ef5350"),
        ("C", 846, TXT), ("1.873", 870, "#ef5350"), ("\u22120.009 (\u22120.48%)", 958, "#ef5350")]
for s, x, c in row1:
    ftext(x, 107, s, color=c, fontsize=LEG_FS)
row2 = [("20-50-200-SMA (close, 20, 50, 200)", 46, TXT), ("1.966", 530, "#ff0000"),
        ("2.058", 624, "#ffffff"), ("2.072", 712, "#00ff00")]
for s, x, c in row2:
    ftext(x, 148, s, color=c, fontsize=LEG_FS)
ftext(46, 893, "RSI (14, close)", color=TXT, fontsize=18.5)
ftext(255, 893, "35.08", color="#7e57c2", fontsize=18.5)
ftext(46, 1012, "DMI (14, 14)", color=TXT, fontsize=18.5)
ftext(226, 1012, "40.9923", color="#f7175a", fontsize=18.5)
ftext(349, 1012, "8.2701", color="#2962ff", fontsize=18.5)
ftext(456, 1012, "31.2135", color="#ff6d00", fontsize=18.5)
ftext(23, 1183, "TV", color="#d1d4dc", fontsize=24, fontweight="heavy")
ftext(86, 1183, "TradingView", color="#d1d4dc", fontsize=20)

fig.savefig("out.png", dpi=DPI, facecolor=fig.get_facecolor())
